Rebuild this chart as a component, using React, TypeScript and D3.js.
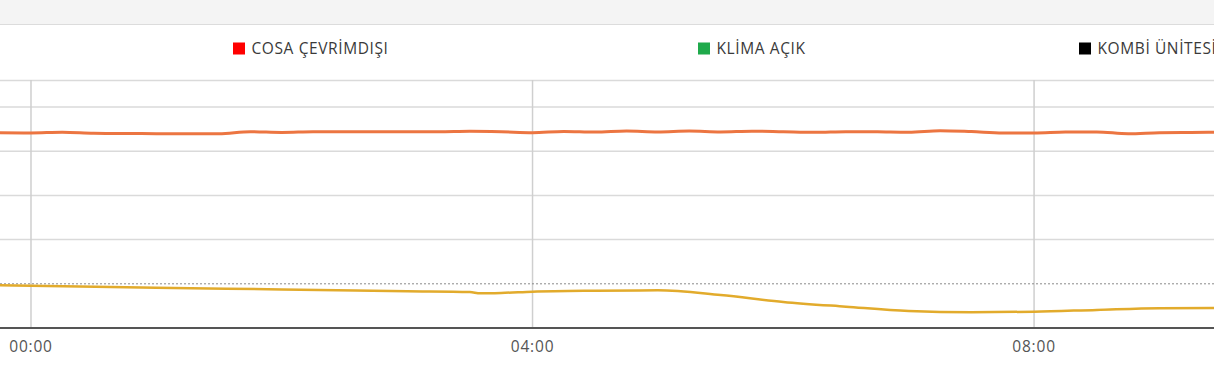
import React from "react";
import * as d3 from "d3";

// minutes relative to 00:00
const orangeMinutes = [-15, 0, 15, 30, 45, 60, 75, 90, 105, 120, 135, 150, 165, 180, 195, 210, 225, 240, 255, 270, 285, 300, 315, 330, 345, 360, 375, 390, 405, 420, 435, 450, 465, 480, 495, 510, 525, 540, 555, 570];
const orangeValues = [22.09, 22.06, 22.15, 22.03, 22.0, 21.98, 21.96, 21.98, 22.21, 22.12, 22.2, 22.21, 22.19, 22.21, 22.19, 22.25, 22.2, 22.1, 22.24, 22.17, 22.29, 22.18, 22.28, 22.17, 22.26, 22.2, 22.14, 22.21, 22.19, 22.14, 22.32, 22.22, 22.07, 22.06, 22.17, 22.18, 21.98, 22.09, 22.12, 22.14];

const yellowMinutes = [-15, 0, 60, 120, 180, 210, 215, 225, 240, 270, 300, 330, 360, 390, 420, 450, 480, 510, 540, 570];
const yellowValues = [4.83, 4.78, 4.55, 4.36, 4.15, 4.06, 3.93, 3.97, 4.11, 4.22, 4.26, 3.72, 2.95, 2.41, 1.92, 1.78, 1.84, 2.05, 2.24, 2.26];

const yTicks = [0, 5, 10, 15, 20, 25];
const thresholdValue = 5;
const xTickLabels = ["00:00", "04:00", "08:00"];
const xTickMinutes = [0, 240, 480];

const legendLabels = ["COSA ÇEVRİMDIŞI", "KLİMA AÇIK", "KOMBİ ÜNİTESİ"];
const legendColors = ["#ff0000", "#1faa4b", "#000000"];

const W = 1214;
const H = 383;
const base = new Date(2024, 0, 10, 0, 0, 0).getTime();
const toDate = (m: number) => new Date(base + m * 60000);

export default function App() {
  const x = d3
    .scaleTime()
    .domain([toDate(-14.83), toDate(566.1)])
    .range([0, W]);
  const y = d3.scaleLinear().domain([0, 25]).range([328, 107]);
  const plotTop = 80;

  const line = d3
    .line<[number, number]>()
    .x((d) => x(toDate(d[0])))
    .y((d) => y(d[1]))
    .curve(d3.curveMonotoneX);

  const orange = orangeMinutes.map((m, i) => [m, orangeValues[i]] as [number, number]);
  const yellow = yellowMinutes.map((m, i) => [m, yellowValues[i]] as [number, number]);

  const legendX = [233, 698, 1079];
  const font = "'Open Sans', sans-serif";

  return (
    <svg
      width={W}
      height={H}
      style={{ position: "absolute", left: 0, top: 0, background: "#fff" }}
    >
      <rect x={0} y={0} width={W} height={24} fill="#f4f4f4" />
      <line x1={0} x2={W} y1={24.5} y2={24.5} stroke="#dcdcdc" />

      {legendLabels.map((l, i) => (
        <g key={l}>
          <rect x={legendX[i]} y={42.5} width={12} height={12} fill={legendColors[i]} />
          <text
            x={legendX[i] + 18.5}
            y={54.3}
            fontFamily={font}
            fontSize={15.5}
            fontWeight={400}
            fill="#3a3a3a"
            letterSpacing={0.6}
          >
            {l}
          </text>
        </g>
      ))}

      <line x1={0} x2={W} y1={plotTop + 0.5} y2={plotTop + 0.5} stroke="#dadada" strokeWidth={1.5} />
      {yTicks
        .filter((t) => t !== 0 && t !== thresholdValue)
        .map((t) => (
          <line key={t} x1={0} x2={W} y1={y(t)} y2={y(t)} stroke="#dadada" strokeWidth={1.5} />
        ))}
      {xTickMinutes.map((m) => (
        <line
          key={m}
          x1={x(toDate(m))}
          x2={x(toDate(m))}
          y1={plotTop}
          y2={y(0)}
          stroke="#cfcfcf"
          strokeWidth={1.5}
        />
      ))}

      <line
        x1={0}
        x2={W}
        y1={y(thresholdValue)}
        y2={y(thresholdValue)}
        stroke="#8a8a8a"
        strokeWidth={1}
        strokeDasharray="2,2"
      />

      <path d={line(yellow) || ""} fill="none" stroke="#e2ab2c" strokeWidth={2.5} />
      <path d={line(orange) || ""} fill="none" stroke="#ec7541" strokeWidth={3} />

      <line x1={0} x2={W} y1={y(0)} y2={y(0)} stroke="#555" strokeWidth={2} />

      {xTickMinutes.map((m, i) => (
        <text
          key={m}
          x={x(toDate(m))}
          y={351.5}
          textAnchor="middle"
          fontFamily={font}
          fontSize={15.5}
          fontWeight={400}
          fill="#555"
          letterSpacing={0.8}
        >
          {xTickLabels[i]}
        </text>
      ))}
    </svg>
  );
}
